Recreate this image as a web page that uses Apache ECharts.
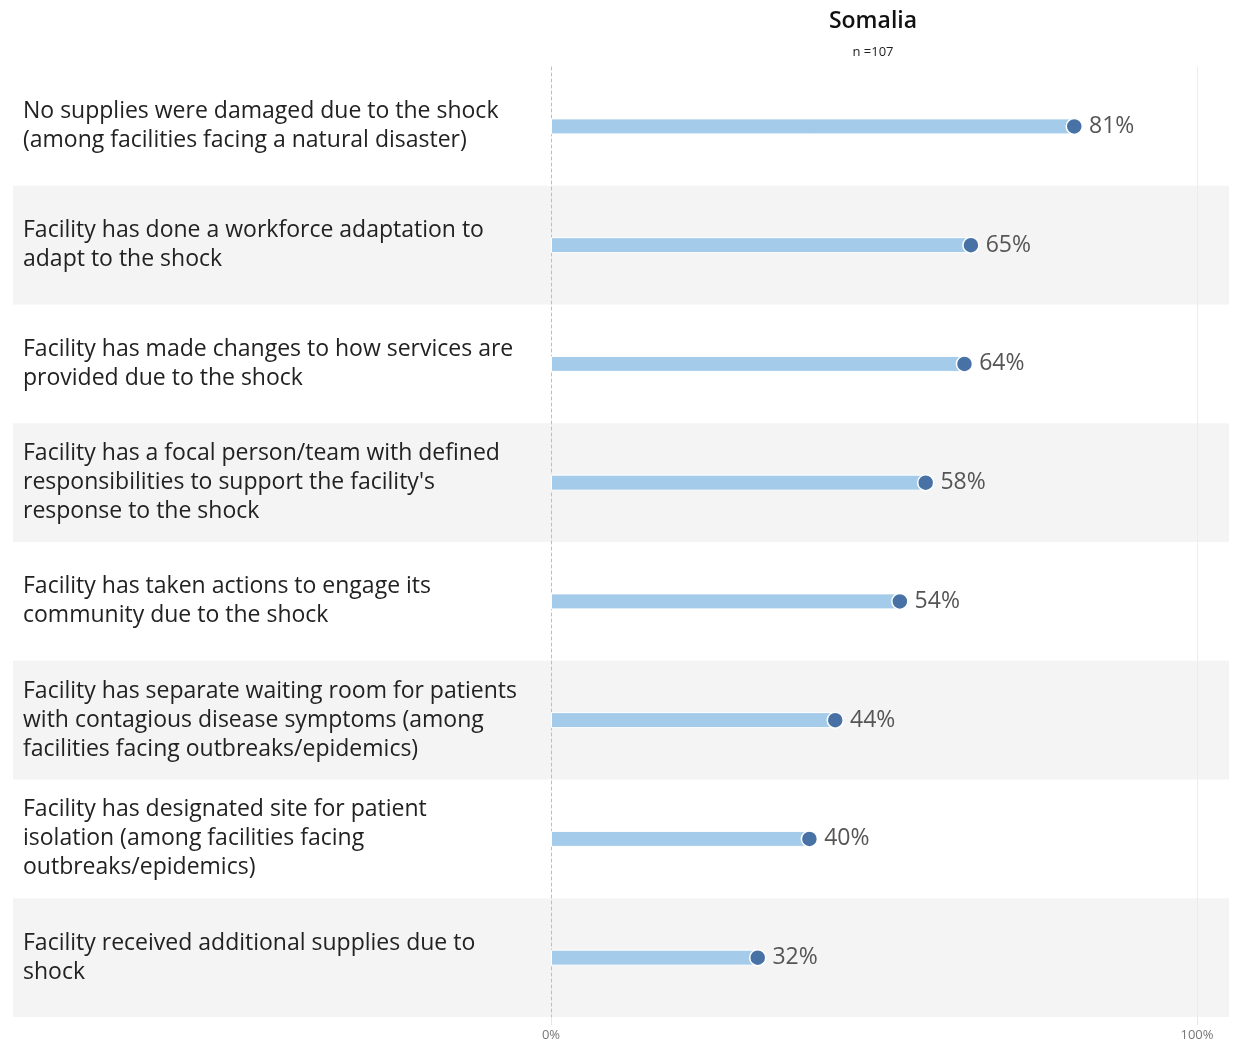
<!DOCTYPE html>
<html><head><meta charset="utf-8">
<script src="https://cdn.jsdelivr.net/npm/echarts@6/dist/echarts.min.js"></script>
<style>html,body{margin:0;padding:0;background:#fff}#c{width:1238px;height:1042px}</style>
</head><body><div id="c"></div>
<script>
const categories = [
  "No supplies were damaged due to the shock\n(among facilities facing a natural disaster)",
  "Facility has done a workforce adaptation to\nadapt to the shock",
  "Facility has made changes to how services are\nprovided due to the shock",
  "Facility has a focal person/team with defined\nresponsibilities to support the facility's\nresponse to the shock",
  "Facility has taken actions to engage its\ncommunity due to the shock",
  "Facility has separate waiting room for patients\nwith contagious disease symptoms (among\nfacilities facing outbreaks/epidemics)",
  "Facility has designated site for patient\nisolation (among facilities facing\noutbreaks/epidemics)",
  "Facility received additional supplies due to\nshock"
];
const values = [81, 65, 64, 58, 54, 44, 40, 32];
const titleText = "Somalia";
const subText = "n =107";

const chart = echarts.init(document.getElementById('c'), null, {renderer:'canvas'});
chart.setOption({
  animation: false,
  backgroundColor: '#fff',
  title: {
    text: titleText, subtext: subText, left: 868, textAlign: 'center', top: 5, itemGap: 13,
    textStyle: {fontFamily: 'Open Sans', fontSize: 23, fontWeight: 600, color: '#111'},
    subtextStyle: {fontFamily: 'Open Sans', fontSize: 13, color: '#222'}
  },
  grid: [
    {left: 13, right: 9, top: 67, bottom: 25},
    {left: 551, right: 41, top: 67, bottom: 25}
  ],
  xAxis: [
    {gridIndex: 0, type: 'value', show: false, min: 0, max: 1},
    {gridIndex: 1, type: 'value', min: 0, max: 100, interval: 100,
      axisLine: {show: false},
      axisTick: {show: true, length: 8, lineStyle: {color: '#e6e6e6'}},
      axisLabel: {formatter: '{value}%', fontFamily: 'Open Sans', fontSize: 13, color: '#777', margin: 12},
      splitLine: {show: true, lineStyle: {color: ['transparent', '#ececec'], width: 1}}
    }
  ],
  yAxis: [
    {gridIndex: 0, type: 'category', data: categories, inverse: true,
      axisLine: {show: false}, axisTick: {show: false}, axisLabel: {show: false},
      splitArea: {show: true, areaStyle: {color: ['rgba(0,0,0,0)', '#f4f4f4']}}
    },
    {gridIndex: 1, type: 'category', data: categories, inverse: true,
      axisLine: {show: true, lineStyle: {color: '#bdbdbd', type: [3, 3], width: 1}},
      axisTick: {show: false},
      axisLabel: {align: 'left', margin: 528, fontFamily: 'Open Sans', fontSize: 23, lineHeight: 29, color: '#222', padding: [3, 0, 0, 0]}
    }
  ],
  series: [
    {type: 'bar', xAxisIndex: 0, yAxisIndex: 0, data: [], silent: true},
    {type: 'bar', xAxisIndex: 1, yAxisIndex: 1, data: values, barWidth: 16,
      itemStyle: {color: '#a5cbea', borderColor: '#fff', borderWidth: 1}},
    {type: 'scatter', xAxisIndex: 1, yAxisIndex: 1, data: values, symbolSize: 16,
      itemStyle: {color: '#4872a5', borderColor: '#fff', borderWidth: 1.5, opacity: 1},
      label: {show: true, position: 'right', distance: 6, formatter: '{c}%', fontFamily: 'Open Sans', fontSize: 23, color: '#555'},
      z: 5}
  ]
});
</script></body></html>
